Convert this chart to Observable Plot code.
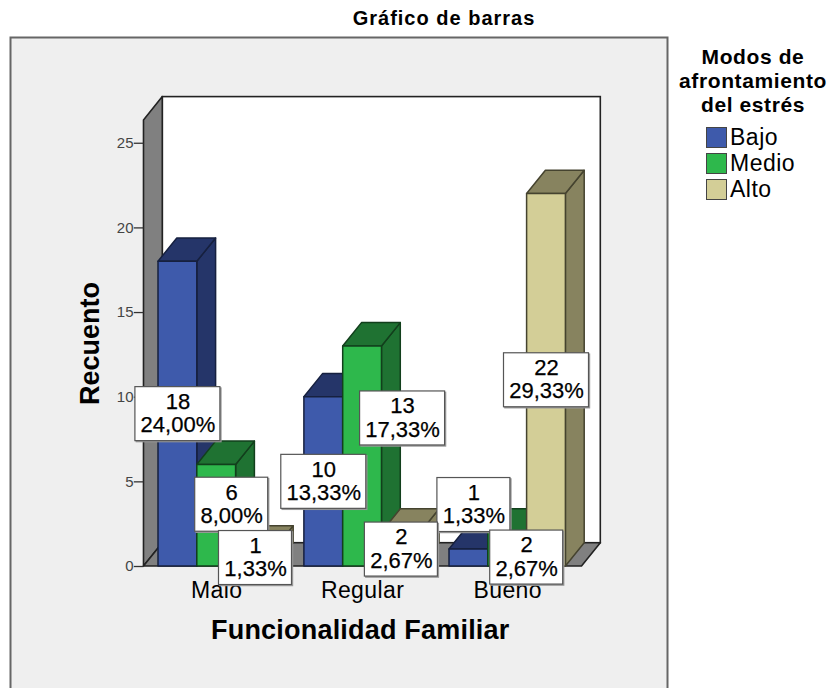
<!DOCTYPE html>
<html><head><meta charset="utf-8">
<script src="https://cdn.jsdelivr.net/npm/d3@7"></script>
<script src="https://cdn.jsdelivr.net/npm/@observablehq/plot@0.6"></script>
<style>
html,body{margin:0;padding:0;background:#fff;overflow:hidden;width:831px;height:688px}
#wrap{position:relative;width:831px;height:688px;font-family:"Liberation Sans",Arial,sans-serif;color:#000}
#title{position:absolute;left:304px;width:280px;top:7px;text-align:center;font-weight:bold;font-size:20px;letter-spacing:1px}
#legend{position:absolute;left:672px;width:162px;top:45px}
#legend .t{text-align:center;font-weight:bold;font-size:21px;line-height:24px;letter-spacing:.6px}
#legend .r{position:absolute;left:34px;font-size:23px;line-height:24px;display:flex;align-items:center;font-weight:normal;letter-spacing:.5px}
#legend .s{display:inline-block;width:19px;height:19px;border:1.5px solid #444;margin-right:3px;box-sizing:content-box}
.catlab text,text.catlab{letter-spacing:.4px}
.xtitle text,text.xtitle{letter-spacing:.2px}
</style></head><body>
<div id="wrap">
<div id="chart"></div>
<div id="title"></div>
<div id="legend"></div>
</div>
<script>
const chartTitle = "Gráfico de barras";
const legendTitle = ["Modos de", "afrontamiento", "del estrés"];
const xTitle = "Funcionalidad Familiar";
const yTitle = "Recuento";
const categories = ["Malo", "Regular", "Bueno"];
const seriesNames = ["Bajo", "Medio", "Alto"];
const bajo = [18, 10, 1];
const medio = [6, 13, 2];
const alto = [1, 2, 22];
const bajoPct = ["24,00%", "13,33%", "1,33%"];
const medioPct = ["8,00%", "17,33%", "2,67%"];
const altoPct = ["1,33%", "2,67%", "29,33%"];
const yTicks = [0, 5, 10, 15, 20, 25];
const frontColors = ["#3e5aab", "#2eb84c", "#d3ce97"];
const shadeColors = ["#253569", "#1f7232", "#87835f"];
const edgeColors = ["#16203f", "#123f1c", "#45432f"];

// scale layout: x unit = one bar width, y unit = one count
const W = 831, H = 688;
const pxX = 38.8, pxY = 16.93, x0 = 158, y0 = 566;
const depthX = 18.8 / pxX, depthY = 23.3 / pxY;
const groupStart = [0, 3.76, 7.5];
const wallLeft = -0.374, floorRight = 10.915, wallTop = 26.35;

const seriesValues = [bajo, medio, alto];
const seriesPct = [bajoPct, medioPct, altoPct];
// label boxes that the source moved off their bar, in pixels, by series then category
const nudges = [[[0,0],[0,0],[5,-53]],[[15,-11],[40,-38],[19,8]],[[0,0],[0,0],[0,0]]];

const bars = seriesNames.flatMap((s, si) => categories.map((c, ci) => ({
  id: s + c, si, ci, v: seriesValues[si][ci], pct: seriesPct[si][ci],
  u0: groupStart[ci] + si, u1: groupStart[ci] + si + 1
})));

const sideFace = b => [
  {id: b.id, x: b.u1, y1: 0, y2: b.v},
  {id: b.id, x: b.u1 + depthX, y1: depthY, y2: b.v + depthY}];
const topFace = b => [
  {id: b.id, y: b.v, x1: b.u0, x2: b.u1},
  {id: b.id, y: b.v + depthY, x1: b.u0 + depthX, x2: b.u1 + depthX}];

const wallFace = [
  {x: wallLeft, y1: 0, y2: wallTop},
  {x: wallLeft + depthX, y1: depthY, y2: wallTop + depthY}];
const floorFace = [
  {y: 0, x1: wallLeft, x2: floorRight},
  {y: depthY, x1: wallLeft + depthX, x2: floorRight + depthX}];
const backWall = [{x1: wallLeft + depthX, x2: floorRight + depthX, y1: depthY, y2: wallTop + depthY}];

const font = '"Liberation Sans", Arial, sans-serif';
const wallEdge = {stroke: "#222", strokeWidth: 1.6};

const barMarks = seriesNames.flatMap((s, si) => {
  const d = bars.filter(b => b.si === si);
  const style = {fill: shadeColors[si], stroke: edgeColors[si], strokeWidth: 1.5, strokeLinejoin: "round"};
  return [
    Plot.areaY(d.flatMap(sideFace), {x: "x", y1: "y1", y2: "y2", z: "id", ...style}),
    Plot.areaX(d.flatMap(topFace), {y: "y", x1: "x1", x2: "x2", z: "id", ...style}),
    Plot.rect(d, {x1: "u0", x2: "u1", y1: 0, y2: "v", ...style, fill: frontColors[si]})
  ];
});

const boxH = 54 / pxY;
const labelMarks = [bars[0], bars[3], bars[2], bars[5], bars[1], bars[7], bars[4], bars[6], bars[8]].flatMap(b => {
  const [dx, dy] = nudges[b.si][b.ci];
  const half = (b.pct.length > 5 ? 85 : 73) / pxX / 2;
  const cx = (b.u0 + b.u1) / 2, cy = b.v / 2;
  const box = [{x1: cx - half, x2: cx + half, y1: cy - boxH / 2, y2: cy + boxH / 2}];
  const rectOpts = {x1: "x1", x2: "x2", y1: "y1", y2: "y2"};
  return [
    Plot.rect(box, {...rectOpts, fill: "#999", stroke: "#999", dx: dx + 1.2, dy: dy + 1.2}),
    Plot.rect(box, {...rectOpts, fill: "#fff", stroke: "#555", strokeWidth: 1.2, dx, dy}),
    Plot.text([b], {x: () => cx, y: () => cy, text: d => d.v + "\n" + d.pct, dx, dy: dy - 1,
      fontSize: 22, lineHeight: 1.06, fill: "#000", stroke: "#000", strokeWidth: 0.25, fontFamily: font})
  ];
});

const chart = Plot.plot({
  width: W, height: H, margin: 0,
  style: {background: "#fff", fontFamily: font},
  x: {type: "linear", domain: [-x0 / pxX, (W - x0) / pxX], range: [0, W], axis: null},
  y: {type: "linear", domain: [-(H - y0) / pxY, y0 / pxY], range: [H, 0], axis: null},
  marks: [
    Plot.frame({insetLeft: 10, insetTop: 37, insetRight: 164, insetBottom: -10, fill: "#efefef", stroke: "#666", strokeWidth: 2}),
    Plot.rect(backWall, {x1: "x1", x2: "x2", y1: "y1", y2: "y2", fill: "#fff", ...wallEdge}),
    Plot.areaY(wallFace, {x: "x", y1: "y1", y2: "y2", fill: "#808080", ...wallEdge}),
    Plot.areaX(floorFace, {y: "y", x1: "x1", x2: "x2", fill: "#808080", ...wallEdge}),
    Plot.ruleY(yTicks, {x1: wallLeft - 0.25, x2: wallLeft, stroke: "#333", strokeWidth: 1.3}),
    Plot.text(yTicks, {x: wallLeft - 0.27, y: d => d, text: d => String(d), textAnchor: "end", fontSize: 15, fill: "#444", fontFamily: font}),
    Plot.text(categories, {x: (d, i) => groupStart[i] + 1.5, y: 0, text: d => d, dy: 24, fontSize: 23, fill: "#000", fontFamily: font, className: "catlab"}),
    Plot.text([xTitle], {x: () => 5.2, y: () => -3.78, text: d => d, fontSize: 27, fontWeight: "bold", fill: "#000", fontFamily: font, className: "xtitle"}),
    Plot.text([yTitle], {x: () => -1.76, y: () => 13.17, text: d => d, rotate: -90, fontSize: 27, fontWeight: "bold", fill: "#000", fontFamily: font}),
    ...barMarks,
    ...labelMarks
  ]
});
document.getElementById("chart").appendChild(chart);
document.getElementById("title").textContent = chartTitle;

const legend = document.getElementById("legend");
legendTitle.forEach(line => {
  const el = document.createElement("div");
  el.className = "t"; el.textContent = line; legend.appendChild(el);
});
seriesNames.forEach((s, i) => {
  const r = document.createElement("div");
  r.className = "r";
  r.style.top = (80 + i * 26) + "px";
  const sw = document.createElement("span");
  sw.className = "s"; sw.style.background = frontColors[i];
  r.appendChild(sw); r.appendChild(document.createTextNode(s));
  legend.appendChild(r);
});
</script>
</body></html>
